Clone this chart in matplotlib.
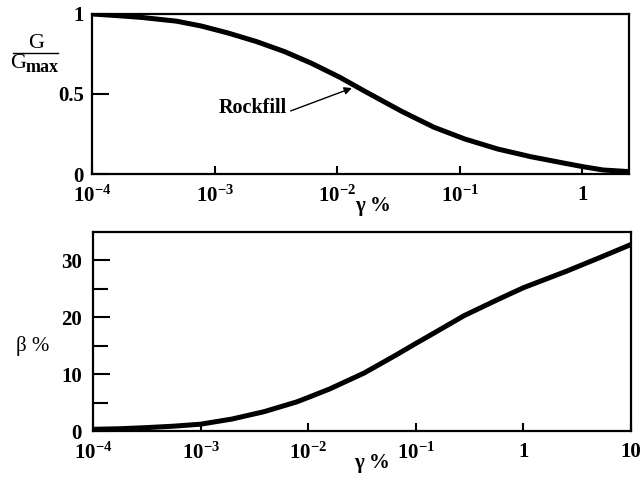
import numpy as np
import matplotlib
matplotlib.use("Agg")
import matplotlib.pyplot as plt
from matplotlib.lines import Line2D
from matplotlib.ticker import FixedLocator, FixedFormatter, NullLocator

plt.rcParams['font.family'] = 'Liberation Serif'
plt.rcParams['font.weight'] = 'bold'
plt.rcParams['mathtext.fontset'] = 'custom'
plt.rcParams['mathtext.rm'] = 'Liberation Serif:bold'
plt.rcParams['mathtext.it'] = 'Liberation Serif:italic:bold'
plt.rcParams['mathtext.bf'] = 'Liberation Serif:bold'

# G/Gmax curve (strain given as log10 of gamma %)
log_strain_G = [-4.0, -3.8, -3.59, -3.31, -3.11, -2.89, -2.66, -2.43, -2.21,
                -1.98, -1.77, -1.47, -1.21, -0.96, -0.69, -0.42, -0.15,
                0.01, 0.17, 0.38]
G_ratio = [1.0, 0.99, 0.978, 0.955, 0.925, 0.881, 0.828, 0.765, 0.692,
           0.605, 0.515, 0.39, 0.292, 0.219, 0.156, 0.108, 0.068,
           0.045, 0.025, 0.015]

# damping curve
log_strain_beta = [-4.0, -3.75, -3.5, -3.25, -3.0, -2.71, -2.41, -2.11, -2.0,
                   -1.8, -1.48, -1.18, -1.0, -0.87, -0.55, -0.24, 0.0,
                   0.4, 0.71, 1.0]
damping = [0.3, 0.4, 0.6, 0.85, 1.2, 2.1, 3.4, 5.1, 5.9,
           7.4, 10.2, 13.4, 15.4, 16.8, 20.3, 23.1, 25.2,
           28.1, 30.5, 32.8]

top_xticks = [1e-4, 1e-3, 1e-2, 1e-1, 1]
top_xlabels = [r'$10^{-4}$', r'$10^{-3}$', r'$10^{-2}$', r'$10^{-1}$', '1']
bot_xticks = [1e-4, 1e-3, 1e-2, 1e-1, 1, 10]
bot_xlabels = [r'$10^{-4}$', r'$10^{-3}$', r'$10^{-2}$', r'$10^{-1}$', '1', '10']
top_yticks = [0, 0.5, 1]
top_ylabels = ['0', '0.5', '1']
bot_yticks = [0, 10, 20, 30]
bot_yminor = [5, 15, 25]

strain_G = 10.0 ** np.array(log_strain_G)
strain_beta = 10.0 ** np.array(log_strain_beta)

fig = plt.figure(figsize=(6.42, 4.82), dpi=100)
ax1 = fig.add_axes([0.1433, 0.639, 0.8364, 0.332])
ax2 = fig.add_axes([0.1449, 0.1058, 0.838, 0.4129])

for ax in (ax1, ax2):
    ax.set_xscale('log')
    for s in ax.spines.values():
        s.set_linewidth(1.6)
    ax.xaxis.set_minor_locator(NullLocator())
    ax.tick_params(axis='x', which='major', direction='in', length=6,
                   width=1.5, pad=8, labelsize=15)

# top panel
ax1.plot(strain_G, G_ratio, color='black', lw=3.6, solid_capstyle='round',
         solid_joinstyle='round')
ax1.set_xlim(1e-4, 10 ** 0.38)
ax1.set_ylim(0, 1)
ax1.xaxis.set_major_locator(FixedLocator(top_xticks))
ax1.xaxis.set_major_formatter(FixedFormatter(top_xlabels))
ax1.yaxis.set_major_locator(FixedLocator(top_yticks))
ax1.yaxis.set_major_formatter(FixedFormatter(top_ylabels))
ax1.tick_params(axis='y', direction='in', length=12, width=1.5, pad=6,
                labelsize=15)

xa = -1.88
ax1.annotate('Rockfill', xy=(10 ** xa, np.interp(xa, log_strain_G, G_ratio) - 0.025),
             xytext=(10 ** -2.69, 0.41), ha='center', va='center',
             fontsize=14.5, weight='bold',
             arrowprops=dict(arrowstyle='-|>', color='black', lw=1,
                             mutation_scale=11, shrinkA=3, shrinkB=0,
                             relpos=(1.0, 0.3), patchA=None))

# bottom panel
ax2.plot(strain_beta, damping, color='black', lw=3.6, solid_capstyle='round',
         solid_joinstyle='round')
ax2.set_xlim(1e-4, 10)
ax2.set_ylim(0, 35)
ax2.xaxis.set_major_locator(FixedLocator(bot_xticks))
ax2.xaxis.set_major_formatter(FixedFormatter(bot_xlabels))
ax2.yaxis.set_major_locator(FixedLocator(bot_yticks))
ax2.yaxis.set_minor_locator(FixedLocator(bot_yminor))
ax2.tick_params(axis='y', which='major', direction='in', length=12,
                width=1.5, pad=8, labelsize=15)
ax2.tick_params(axis='y', which='minor', direction='in', length=11,
                width=1.5)

# axis labels
fig.text(373 / 642, 1 - 206 / 482, 'γ %', ha='center', va='center',
         fontsize=15, weight='bold')
fig.text(372 / 642, 1 - 463 / 482, 'γ %', ha='center', va='center',
         fontsize=15, weight='bold')
fig.text(33 / 642, 1 - 346 / 482, 'β %', ha='center', va='center',
         fontsize=15, weight='normal')

# G / Gmax fraction
fig.text(36 / 642, 1 - 43 / 482, 'G', ha='center', va='center',
         fontsize=16, weight='normal')
fig.add_artist(Line2D([13 / 642, 58 / 642], [1 - 53 / 482, 1 - 53 / 482],
                      transform=fig.transFigure, color='black', lw=1))
fig.text(10 / 642, 1 - 63 / 482, 'G', ha='left', va='center',
         fontsize=16, weight='normal')
fig.text(26 / 642, 1 - 67 / 482, 'max', ha='left', va='center',
         fontsize=13, weight='bold')

fig.savefig('out.png', dpi=100)
